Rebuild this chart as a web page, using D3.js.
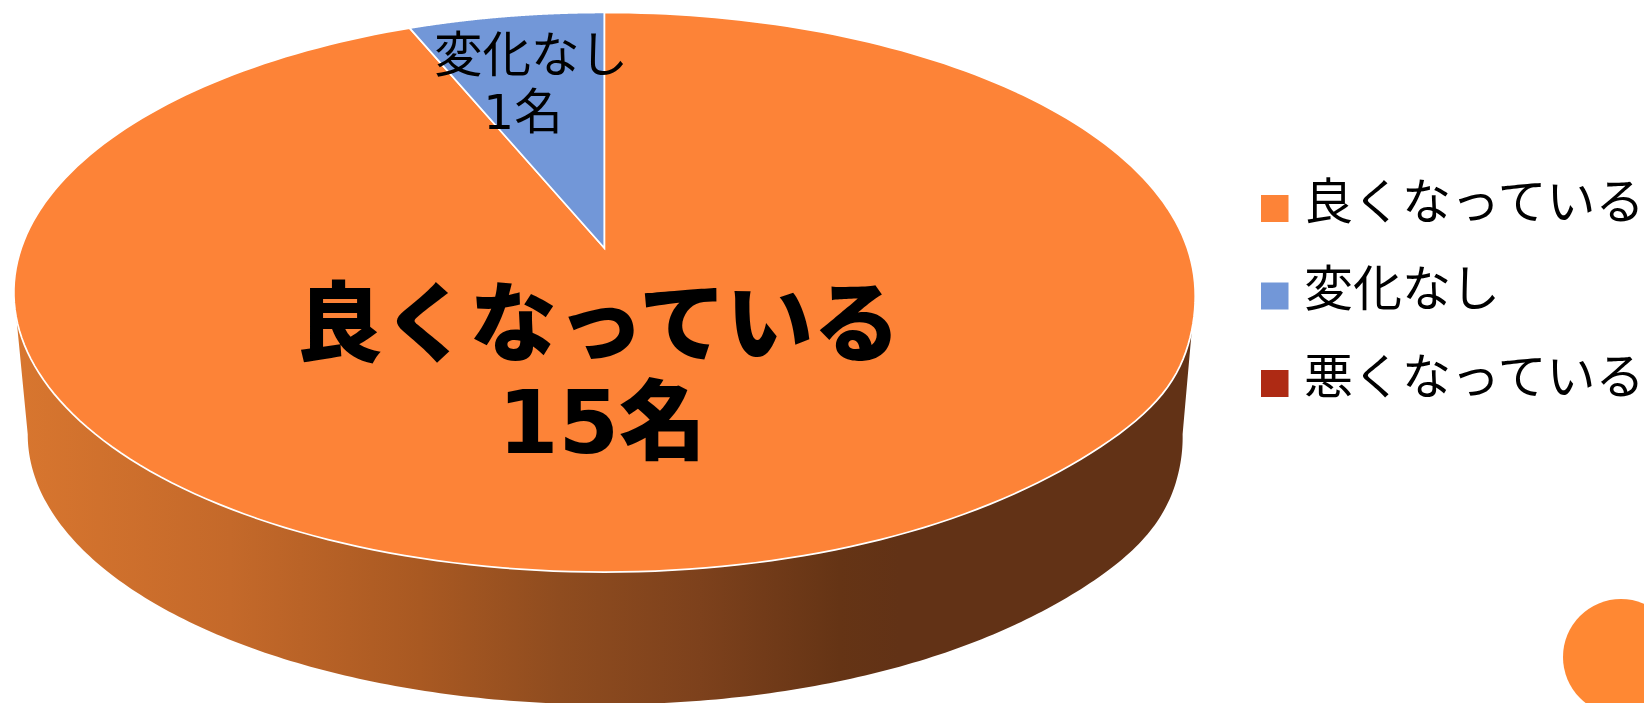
<!DOCTYPE html>
<html lang="ja">
<head>
<meta charset="utf-8">
<script src="https://cdn.jsdelivr.net/npm/d3@7"></script>
<style>
html,body{margin:0;padding:0;background:#fff;overflow:hidden}
svg{display:block}
text{font-family:"DejaVu Sans","Noto Sans CJK JP",sans-serif;fill:#000}
</style>
</head>
<body>
<svg id="chart" width="1644" height="703" lang="ja"></svg>
<script>
// Survey result: how participants' condition changed
const categories = ["良くなっている", "変化なし", "悪くなっている"];
const counts = [15, 1, 0];
const countSuffix = "名";
const sliceColors = ["#FD8337", "#7297D8", "#AE2A14"];
const wallStopX = [15, 230, 420, 560, 700, 840, 900];
const wallStopColors = ["#D8762F", "#C4692A", "#A95922", "#8F4C1F", "#7D411C", "#653415", "#623216"];

const svg = d3.select("#chart");

// Perspective view of the pie disc: angle on the unit circle to screen position.
// The far side shrinks by 1 + perspective * cos(angle).
const perspective = 0.1582;
function projector(cx, cy, rx, ry, bulge) {
  return (a, r = 1) => {
    const u = r * Math.sin(a), v = r * Math.cos(a), w = 1 + perspective * v;
    const swell = r * bulge * Math.exp(-(((a - 2.1) / 0.22) ** 2));
    return [cx + rx * u / w + swell, cy - ry * v / w];
  };
}
const topRim = projector(604.3, 248, 583, 272.8, 8);
const baseRim = projector(605, 392, 570, 263, 6);

const slices = d3.pie().sort(null).value(d => d)(counts);
const line = d3.line();
const sweep = (from, to, n) => d3.range(n + 1).map(i => from + (to - from) * i / n);

// Side wall: the front part between the two rims, from one silhouette tangent to the other
const wallAngles = sweep(Math.PI * 0.55, Math.PI * 1.45, 240);
const wallPath = line(wallAngles.map(a => topRim(a))
  .concat(wallAngles.slice().reverse().map(a => baseRim(a)))) + "Z";

const wallShade = d3.scaleLinear().domain(wallStopX).range(wallStopColors);
const wallOffset = d3.scaleLinear().domain(d3.extent(wallStopX)).range([0, 1]);
const grad = svg.append("defs").append("linearGradient")
  .attr("id", "wallShade").attr("gradientUnits", "userSpaceOnUse")
  .attr("x1", d3.min(wallStopX)).attr("x2", d3.max(wallStopX)).attr("y1", 0).attr("y2", 0);
grad.selectAll("stop").data(wallStopX).join("stop")
  .attr("offset", d => wallOffset(d)).attr("stop-color", d => wallShade(d));
svg.append("path").attr("d", wallPath).attr("fill", "url(#wallShade)");

// Top face, one wedge per non-empty slice
svg.append("g").selectAll("path").data(slices.filter(d => d.value > 0)).join("path")
  .attr("d", d => line(sweep(d.startAngle, d.endAngle, 240).map(a => topRim(a))
      .concat([topRim(0, 0)])) + "Z")
  .attr("fill", d => sliceColors[d.index])
  .attr("stroke", "#fff").attr("stroke-width", 1.75).attr("stroke-linejoin", "miter");

// Data labels, two lines each
const labelSpec = [
  {i: 0, x1: 598, x2: 602, y1: 355, y2: 453, size: 87, weight: 900},
  {i: 1, x1: 531, x2: 523, y1: 72, y2: 129, size: 48.5, weight: 400}
];
labelSpec.forEach(s => {
  const t = svg.append("text").attr("text-anchor", "middle")
    .attr("font-size", s.size).attr("font-weight", s.weight);
  t.append("tspan").attr("x", s.x1).attr("y", s.y1).text(categories[s.i]);
  t.append("tspan").attr("x", s.x2).attr("y", s.y2).text(counts[s.i] + countSuffix);
});

// Legend
const legendY = d3.scalePoint().domain(categories).range([208.5, 383.5]);
const legend = svg.append("g").selectAll("g").data(categories).join("g")
  .attr("transform", d => `translate(0,${legendY(d)})`);
legend.append("rect").attr("x", 1261).attr("y", -13.5).attr("width", 27.5).attr("height", 27)
  .attr("fill", (d, i) => sliceColors[i]);
legend.append("text").attr("x", 1304).attr("y", 10).attr("font-size", 49).text(d => d);

// Slide decoration in the corner
svg.append("circle").attr("cx", 1621).attr("cy", 657).attr("r", 58).attr("fill", "#FF8833");
</script>
</body>
</html>
